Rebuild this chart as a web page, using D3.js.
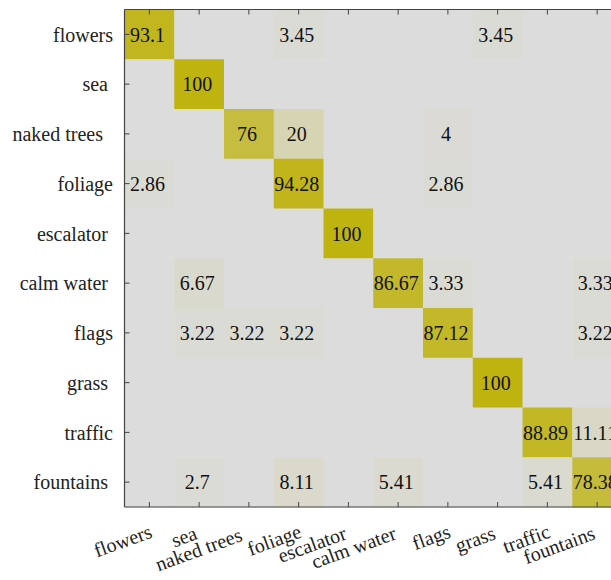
<!DOCTYPE html>
<html>
<head>
<meta charset="utf-8">
<script src="https://cdn.jsdelivr.net/npm/d3@7"></script>
</head>
<body style="margin:0">
<script>
// class labels (trailing spaces kept like in the original figure)
const rowLabels = ["flowers", "sea ", "naked trees  ", "foliage", "escalator ", "calm water ", "flags", "grass ", "traffic", "fountains "];
const colLabels = rowLabels;

// confusion matrix, percent per row
const rowFlowers    = [93.1, 0, 0, 3.45, 0, 0, 0, 3.45, 0, 0];
const rowSea        = [0, 100, 0, 0, 0, 0, 0, 0, 0, 0];
const rowNakedTrees = [0, 0, 76, 20, 0, 0, 4, 0, 0, 0];
const rowFoliage    = [2.86, 0, 0, 94.28, 0, 0, 2.86, 0, 0, 0];
const rowEscalator  = [0, 0, 0, 0, 100, 0, 0, 0, 0, 0];
const rowCalmWater  = [0, 6.67, 0, 0, 0, 86.67, 3.33, 0, 0, 3.33];
const rowFlags      = [0, 3.22, 3.22, 3.22, 0, 0, 87.12, 0, 0, 3.22];
const rowGrass      = [0, 0, 0, 0, 0, 0, 0, 100, 0, 0];
const rowTraffic    = [0, 0, 0, 0, 0, 0, 0, 0, 88.89, 11.11];
const rowFountains  = [0, 2.7, 0, 8.11, 0, 5.41, 0, 0, 5.41, 78.38];

const matrix = [rowFlowers, rowSea, rowNakedTrees, rowFoliage, rowEscalator,
                rowCalmWater, rowFlags, rowGrass, rowTraffic, rowFountains];

const W = 611, H = 580;
const mLeft = 124.5, mTop = 9.5, cell = 49.75;
const n = rowLabels.length;
const serif = "'Liberation Serif', 'Times New Roman', Times";

const svg = d3.select("body").append("svg")
    .attr("width", W)
    .attr("height", H);

const x = d3.scaleBand().domain(d3.range(n)).range([mLeft, mLeft + n * cell]);
const y = d3.scaleBand().domain(d3.range(n)).range([mTop, mTop + n * cell]);

// grey -> olive colour ramp
const color = d3.scaleLinear().domain([0, 100]).range(["#dcdcdc", "#bfb30f"]);

// flatten matrix to cells
const cells = [];
matrix.forEach((row, i) => row.forEach((v, j) => cells.push({ i, j, v })));

svg.append("g").selectAll("rect")
    .data(cells)
    .enter().append("rect")
    .attr("x", d => x(d.j))
    .attr("y", d => y(d.i))
    .attr("width", x.bandwidth() + 0.5)
    .attr("height", y.bandwidth() + 0.5)
    .attr("fill", d => color(d.v));

// numbers inside cells
svg.append("g").selectAll("text")
    .data(cells.filter(d => d.v > 0))
    .enter().append("text")
    .attr("x", d => x(d.j) + x.bandwidth() / 2 - 2)
    .attr("y", d => y(d.i) + y.bandwidth() / 2)
    .attr("dy", "0.36em")
    .attr("text-anchor", "middle")
    .attr("font-size", 20)
    .attr("font-family", serif)
    .attr("fill", "#111")
    .text(d => d.v);

const axisColor = "#444";
const tickLen = 5;
const mBottom = mTop + n * cell;
const mRight = mLeft + n * cell;

// frame: left, top, bottom
const frame = svg.append("g").attr("stroke", axisColor).attr("stroke-width", 1.2).attr("fill", "none");
frame.append("line").attr("x1", mLeft).attr("x2", mLeft).attr("y1", mTop).attr("y2", mBottom);
frame.append("line").attr("x1", mLeft).attr("x2", mRight).attr("y1", mTop).attr("y2", mTop);
frame.append("line").attr("x1", mLeft).attr("x2", mRight).attr("y1", mBottom).attr("y2", mBottom);

// inward ticks
const ticks = svg.append("g").attr("stroke", axisColor).attr("stroke-width", 1);
d3.range(n).forEach(k => {
    const cx = x(k) + x.bandwidth() / 2;
    const cy = y(k) + y.bandwidth() / 2;
    ticks.append("line").attr("x1", cx).attr("x2", cx).attr("y1", mTop).attr("y2", mTop + tickLen);
    ticks.append("line").attr("x1", cx).attr("x2", cx).attr("y1", mBottom).attr("y2", mBottom - tickLen);
    ticks.append("line").attr("x1", mLeft).attr("x2", mLeft + tickLen).attr("y1", cy).attr("y2", cy);
});

// y labels
svg.append("g").selectAll("text")
    .data(rowLabels)
    .enter().append("text")
    .attr("x", 113)
    .attr("y", (d, i) => y(i) + y.bandwidth() / 2)
    .attr("dy", "0.36em")
    .attr("text-anchor", "end")
    .attr("font-size", 20)
    .attr("font-family", serif)
    .attr("fill", "#222")
    .attr("xml:space", "preserve")
    .text(d => d);

// x labels, rotated
svg.append("g").selectAll("text")
    .data(colLabels)
    .enter().append("text")
    .attr("text-anchor", "end")
    .attr("transform", (d, i) => `translate(${x(i) + x.bandwidth() / 2 + 4},${mBottom + 30}) rotate(-20)`)
    .attr("font-size", 20)
    .attr("font-family", serif)
    .attr("fill", "#222")
    .attr("xml:space", "preserve")
    .text(d => d);
</script>
</body>
</html>
